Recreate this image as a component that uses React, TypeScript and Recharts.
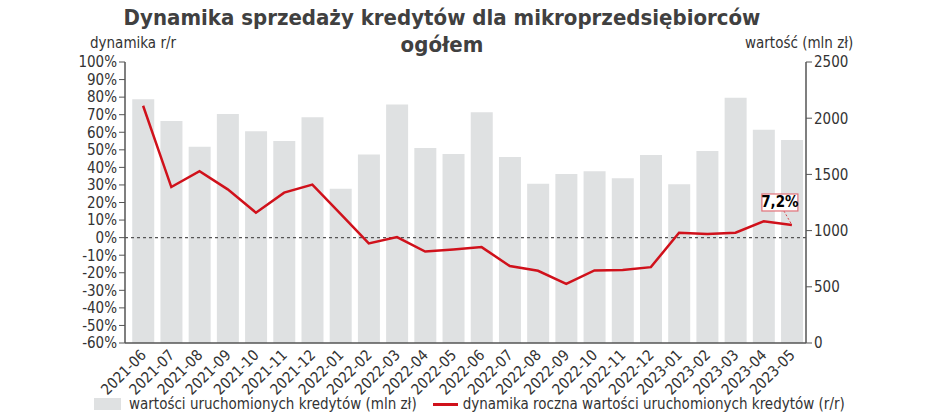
import React from "react";
import {
  ComposedChart,
  Bar,
  Line,
  XAxis,
  YAxis,
  ReferenceLine,
  LabelList,
} from "recharts";

const months = [
  "2021-06", "2021-07", "2021-08", "2021-09", "2021-10", "2021-11", "2021-12",
  "2022-01", "2022-02", "2022-03", "2022-04", "2022-05", "2022-06", "2022-07",
  "2022-08", "2022-09", "2022-10", "2022-11", "2022-12", "2023-01", "2023-02",
  "2023-03", "2023-04", "2023-05",
];

const values = [
  2169, 1976, 1747, 2038, 1884, 1798, 2009, 1373, 1676, 2121, 1735, 1682,
  2053, 1655, 1417, 1504, 1528, 1465, 1673, 1412, 1709, 2181, 1898, 1807,
];

const dynamics = [
  75.1, 28.8, 37.8, 27.5, 14.2, 25.6, 30.2, 13.5, -3.3, 0.3, -7.9, -6.7,
  -5.4, -16.2, -18.9, -26.3, -18.7, -18.5, -16.8, 2.8, 2.0, 2.8, 9.3, 7.2,
];

const leftTicks = [100, 90, 80, 70, 60, 50, 40, 30, 20, 10, 0, -10, -20, -30, -40, -50, -60];
const rightTicks = [0, 500, 1000, 1500, 2000, 2500];

const data = months.map((m, i) => ({ month: m, value: values[i], dyn: dynamics[i] }));

const FONT = "'DejaVu Sans Condensed', 'Liberation Sans Narrow', 'Roboto', sans-serif";
const TXT = "#333333";

const XTick = (props: any) => {
  const { x, y, payload } = props;
  return (
    <g transform={`translate(${x + 4},${y + 5})`}>
      <text
        x={0}
        y={0}
        textAnchor="end"
        transform="rotate(-45)"
        fill={TXT}
        fontSize={15}
        fontFamily={FONT}
      >
        {payload.value}
      </text>
    </g>
  );
};

const LastLabel = (props: any) => {
  const { x, y, index, value } = props;
  if (index !== months.length - 1) return null;
  const bx = x - 30;
  const by = y - 31;
  const w = 36;
  const h = 17;
  return (
    <g>
      <line x1={bx + w / 2 + 4} y1={by + h} x2={x} y2={y} stroke="#d9434b" strokeDasharray="2 2" strokeWidth={1} />
      <rect x={bx} y={by} width={w} height={h} fill="#ffffff" stroke="#e07078" strokeWidth={1.2} />
      <text
        x={bx + w / 2}
        y={by + h / 2 + 5}
        textAnchor="middle"
        fontFamily={FONT}
        fontWeight="bold"
        fontSize={15}
        fill="#000"
      >
        {String(value).replace(".", ",") + "%"}
      </text>
    </g>
  );
};

export default function App() {
  return (
    <div style={{ position: "absolute", left: 0, top: 0, width: 948, height: 416, background: "#fff" }}>
      <div
        style={{
          position: "absolute",
          left: 0,
          top: 4,
          width: 884,
          textAlign: "center",
          fontFamily: FONT,
          fontWeight: "bold",
          fontSize: 22,
          lineHeight: "27px",
          color: "#404040",
        }}
      >
        Dynamika sprzedaży kredytów dla mikroprzedsiębiorców
        <br />
        ogółem
      </div>
      <div style={{ position: "absolute", left: 90, top: 34, fontFamily: FONT, fontSize: 15, color: TXT }}>
        dynamika r/r
      </div>
      <div style={{ position: "absolute", left: 745, top: 34, fontFamily: FONT, fontSize: 15, color: TXT }}>
        wartość (mln zł)
      </div>
      <ComposedChart
        width={948}
        height={416}
        data={data}
        margin={{ top: 62, right: 0, bottom: 0, left: 0 }}
        barCategoryGap="11.5%"
      >
        <XAxis
          dataKey="month"
          interval={0}
          tick={<XTick />}
          tickLine={false}
          padding={{ left: 4, right: 0 }}
          axisLine={{ stroke: "#555", strokeWidth: 1.5 }}
          height={73}
        />
        <YAxis
          yAxisId="left"
          orientation="left"
          width={125}
          domain={[-60, 100]}
          ticks={leftTicks}
          interval={0}
          tickFormatter={(v: number) => `${v}%`}
          tick={{ fill: TXT, fontSize: 15, fontFamily: FONT }}
          tickLine={{ stroke: "#555" }}
          tickSize={6}
          axisLine={{ stroke: "#555", strokeWidth: 1.5 }}
        />
        <YAxis
          yAxisId="right"
          orientation="right"
          width={142}
          domain={[0, 2500]}
          ticks={rightTicks}
          interval={0}
          tick={{ fill: TXT, fontSize: 15, fontFamily: FONT, textAnchor: "start" }}
          tickLine={{ stroke: "#555" }}
          tickSize={6}
          axisLine={{ stroke: "#555", strokeWidth: 1.5 }}
        />
        <Bar yAxisId="right" dataKey="value" fill="#dfe1e2" isAnimationActive={false} />
        <ReferenceLine yAxisId="left" y={0} stroke="#555" strokeDasharray="3 3" strokeWidth={1.2} />
        <Line
          yAxisId="left"
          dataKey="dyn"
          stroke="#d0111b"
          strokeWidth={2.5}
          dot={false}
          isAnimationActive={false}
        >
          <LabelList dataKey="dyn" content={<LastLabel />} />
        </Line>
      </ComposedChart>
      <div
        style={{
          position: "absolute",
          left: 94,
          top: 395,
          display: "flex",
          alignItems: "center",
          fontFamily: FONT,
          fontSize: 15,
          color: TXT,
          whiteSpace: "nowrap",
        }}
      >
        <span style={{ display: "inline-block", width: 27, height: 12, background: "#dfe1e2", marginRight: 8 }} />
        <span>wartości uruchomionych kredytów (mln zł)</span>
        <span
          style={{ display: "inline-block", width: 25, height: 3, background: "#d0111b", marginLeft: 16, marginRight: 5 }}
        />
        <span>dynamika roczna wartości uruchomionych kredytów (r/r)</span>
      </div>
    </div>
  );
}
